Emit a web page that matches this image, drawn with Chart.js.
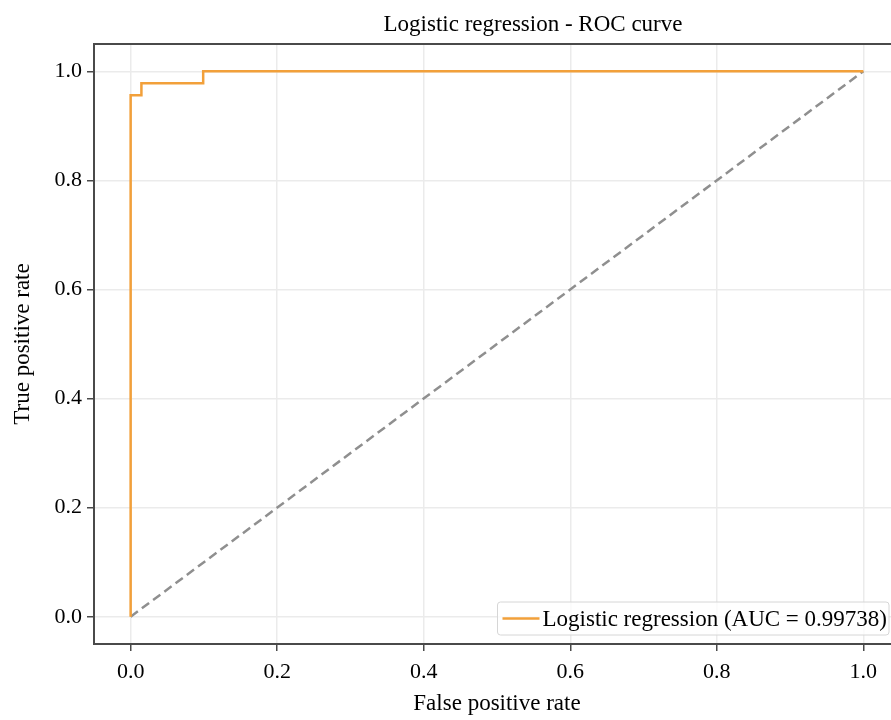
<!DOCTYPE html>
<html>
<head>
<meta charset="utf-8">
<script src="https://cdn.jsdelivr.net/npm/chart.js@4.4.0/dist/chart.umd.min.js"></script>
<style>
html, body { margin: 0; padding: 0; background: #fff; overflow: hidden; }
#roc_chart { display: block; }
</style>
</head>
<body>
<canvas id="roc_chart" width="920" height="720"></canvas>
<script>
// ROC curve points
const fpr = [0, 0, 0.0147, 0.0147, 0.099, 0.099, 1.0];
const tpr = [0, 0.956, 0.956, 0.978, 0.978, 1.0, 1.0];
// chance diagonal
const chanceX = [0, 1];
const chanceY = [0, 1];
const tickValues = [0, 0.2, 0.4, 0.6, 0.8, 1.0];
const curveLabel = 'Logistic regression (AUC = 0.99738)';
const chartTitle = 'Logistic regression - ROC curve';

const serif = '"Liberation Serif", "Times New Roman", serif';
Chart.defaults.font.family = serif;
Chart.defaults.color = '#000';

const toPoints = (xs, ys) => xs.map((x, i) => ({x: x, y: ys[i]}));

// axes frame + title (title sits a bit right of the axes centre in the original)
const frame = {
    id: 'frame',
    afterDatasetsDraw(chart) {
        const {ctx, chartArea: a} = chart;
        ctx.save();
        ctx.strokeStyle = '#4a4a4a';
        ctx.lineWidth = 2;
        ctx.strokeRect(a.left, a.top, a.right - a.left, a.bottom - a.top);
        ctx.font = '23px ' + serif;
        ctx.fillStyle = '#000';
        ctx.textAlign = 'center';
        ctx.textBaseline = 'middle';
        ctx.fillText(chartTitle, (a.left + a.right) / 2 + 36, a.top - 19);
        ctx.restore();
    }
};

const boxLegend = {
    id: 'boxLegend',
    afterDraw(chart) {
        const {ctx, chartArea: a} = chart;
        const ds = chart.data.datasets[0];
        ctx.save();
        ctx.font = '23px ' + serif;
        const textW = ctx.measureText(ds.label).width;
        const right = a.right - 11, bottom = a.bottom - 9, h = 33;
        const left = right - textW - 47;
        const top = bottom - h;
        ctx.fillStyle = 'rgba(255,255,255,0.8)';
        ctx.strokeStyle = '#d6d6d6';
        ctx.lineWidth = 1;
        ctx.beginPath();
        ctx.roundRect(left, top, right - left, h, 3);
        ctx.fill();
        ctx.stroke();
        const cy = top + h / 2;
        ctx.strokeStyle = ds.borderColor;
        ctx.lineWidth = ds.borderWidth;
        ctx.beginPath();
        ctx.moveTo(left + 5, cy);
        ctx.lineTo(left + 42, cy);
        ctx.stroke();
        ctx.fillStyle = '#000';
        ctx.textBaseline = 'middle';
        ctx.fillText(ds.label, left + 45, cy + 1);
        ctx.restore();
    }
};

const fixedTicks = (scale) => {
    scale.ticks = tickValues.map(v => ({value: v}));
};

const ctx = document.getElementById('roc_chart').getContext('2d');
const rocChart = new Chart(ctx, {
    type: 'line',
    data: {
        datasets: [{
            label: curveLabel,
            data: toPoints(fpr, tpr),
            borderColor: '#f2a03a',
            borderWidth: 2.5,
            pointRadius: 0,
            tension: 0
        }, {
            label: 'chance',
            data: toPoints(chanceX, chanceY),
            borderColor: '#8f8f8f',
            borderWidth: 2.5,
            borderDash: [9, 5],
            pointRadius: 0,
            tension: 0
        }]
    },
    options: {
        responsive: false,
        animation: false,
        devicePixelRatio: 1,
        layout: { padding: { top: 44, right: 20 } },
        plugins: {
            legend: { display: false },
            tooltip: { enabled: false },
            title: { display: false }
        },
        scales: {
            x: {
                type: 'linear',
                min: -0.05,
                max: 1.05,
                afterBuildTicks: fixedTicks,
                afterFit: (s) => { s.height = 76; },
                ticks: {
                    font: { size: 22 },
                    color: '#000',
                    padding: 8,
                    maxRotation: 0,
                    callback: (v) => v.toFixed(1)
                },
                grid: { color: '#ebebeb', lineWidth: 1.5, tickColor: '#4a4a4a', tickLength: 7, tickWidth: 1.5 },
                border: { display: false },
                title: {
                    display: true,
                    text: 'False positive rate',
                    font: { size: 23 },
                    color: '#000',
                    padding: { top: 4, bottom: 2 }
                }
            },
            y: {
                type: 'linear',
                min: -0.05,
                max: 1.05,
                afterBuildTicks: fixedTicks,
                afterFit: (s) => { s.width = 94; },
                ticks: {
                    font: { size: 22 },
                    color: '#000',
                    padding: 5,
                    callback: (v) => v.toFixed(1)
                },
                grid: { color: '#ebebeb', lineWidth: 1.5, tickColor: '#4a4a4a', tickLength: 7, tickWidth: 1.5 },
                border: { display: false },
                title: {
                    display: true,
                    text: 'True positive rate',
                    font: { size: 23 },
                    color: '#000',
                    padding: { top: 9, bottom: 0 }
                }
            }
        }
    },
    plugins: [frame, boxLegend]
});
</script>
</body>
</html>
